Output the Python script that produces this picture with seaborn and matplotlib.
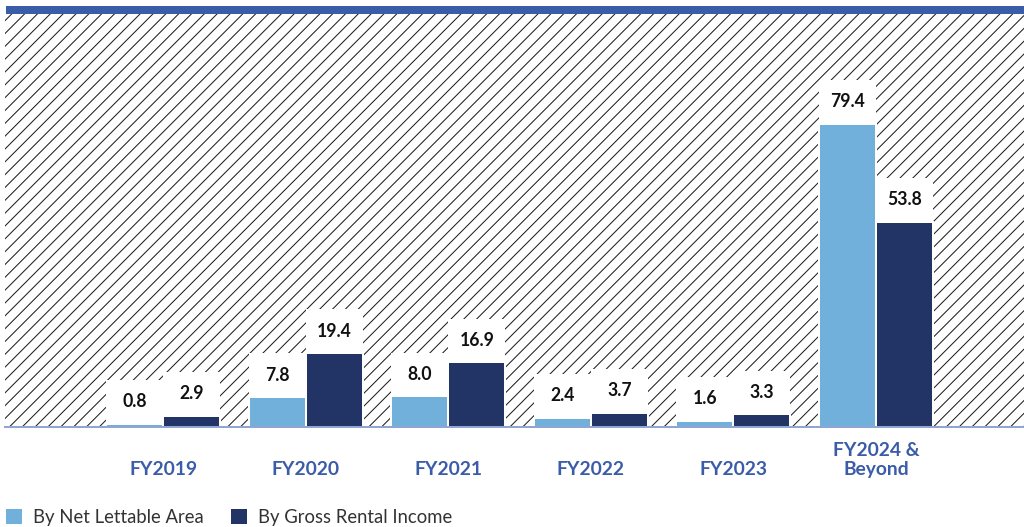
import matplotlib
matplotlib.use("Agg")
import matplotlib.pyplot as plt
from matplotlib.patches import Rectangle, Patch
import pandas as pd
import seaborn as sns

# Lease expiry profile (% of portfolio)
years = ["FY2019", "FY2020", "FY2021", "FY2022", "FY2023", "FY2024 &\nBeyond"]
net_lettable_area = [0.8, 7.8, 8.0, 2.4, 1.6, 79.4]
gross_rental_income = [2.9, 19.4, 16.9, 3.7, 3.3, 53.8]
series_names = ["By Net Lettable Area", "By Gross Rental Income"]

LIGHT = "#72b0dc"
DARK = "#223466"
ACCENT = "#3b5ca8"
AXIS_LINE = "#8fa5d3"

sns.set_theme(style="white")
plt.rcParams["font.family"] = ["Lato", "DejaVu Sans"]
plt.rcParams["hatch.linewidth"] = 0.95

df = pd.DataFrame({
    "year": years * 2,
    "series": [series_names[0]] * len(years) + [series_names[1]] * len(years),
    "value": net_lettable_area + gross_rental_income,
})

DPI = 77
fig = plt.figure(figsize=(1024 / DPI, 527 / DPI), dpi=DPI)
ax = fig.add_axes([5 / 1024, 1 - 427 / 527, 1 - 5 / 1024, (427 - 14) / 527])

# diagonal hatched backdrop behind the bars
ax.add_patch(Rectangle((0, 0), 1, 1, transform=ax.transAxes, facecolor="white",
                       edgecolor="#1c1c1c", hatch="//", linewidth=0, zorder=0))

sns.barplot(data=df, x="year", y="value", hue="series", hue_order=series_names,
            order=years, palette=[LIGHT, DARK], width=0.8, gap=0,
            edgecolor="white", linewidth=2 * 72 / DPI, saturation=1,
            legend=False, ax=ax, zorder=2)

ax.set_xlim(-1.112, 6.039)
ax.set_ylim(0, 108.2)

# white value boxes sitting on top of each bar
box_h = 11.5
for container, vals in zip(ax.containers, [net_lettable_area, gross_rental_income]):
    for bar, v in zip(container, vals):
        ax.add_patch(Rectangle((bar.get_x(), v), bar.get_width(), box_h,
                               facecolor="white", edgecolor="none", zorder=2.5))
        ax.text(bar.get_x() + bar.get_width() / 2, v + box_h / 2, f"{v:.1f}",
                ha="center", va="center", fontsize=16.5, fontweight="bold",
                color="#111111", zorder=3)

ax.set_xlabel("")
ax.set_ylabel("")
ax.set_yticks([])
ax.set_xticks(range(len(years)))
ax.set_xticklabels(years, fontsize=18, fontweight="bold", color=ACCENT,
                   linespacing=1.15)
for lbl in ax.get_xticklabels():
    lbl.set_verticalalignment("baseline")
ax.tick_params(axis="x", length=0, pad=45)
ax.grid(False)
for side in ["left", "top", "right"]:
    ax.spines[side].set_visible(False)
ax.spines["bottom"].set_color(AXIS_LINE)
ax.spines["bottom"].set_linewidth(2 * 72 / DPI)
ax.spines["bottom"].set_zorder(4)

# heavy rule across the top
fig.add_artist(Rectangle((6 / 1024, 1 - 14 / 527), 1, 8 / 527,
                         transform=fig.transFigure, facecolor=ACCENT,
                         edgecolor="none"))

handles = [Patch(facecolor=LIGHT, edgecolor="none"), Patch(facecolor=DARK, edgecolor="none")]
fig.legend(handles, series_names, loc="lower left", bbox_to_anchor=(5 / 1024, 0.0),
           ncol=2, frameon=False, fontsize=17.3, handlelength=0.88, handleheight=0.88,
           handletextpad=0.6, columnspacing=1.45, borderpad=0.05, borderaxespad=0,
           labelcolor="#333333")

fig.savefig("out.png", dpi=DPI)
